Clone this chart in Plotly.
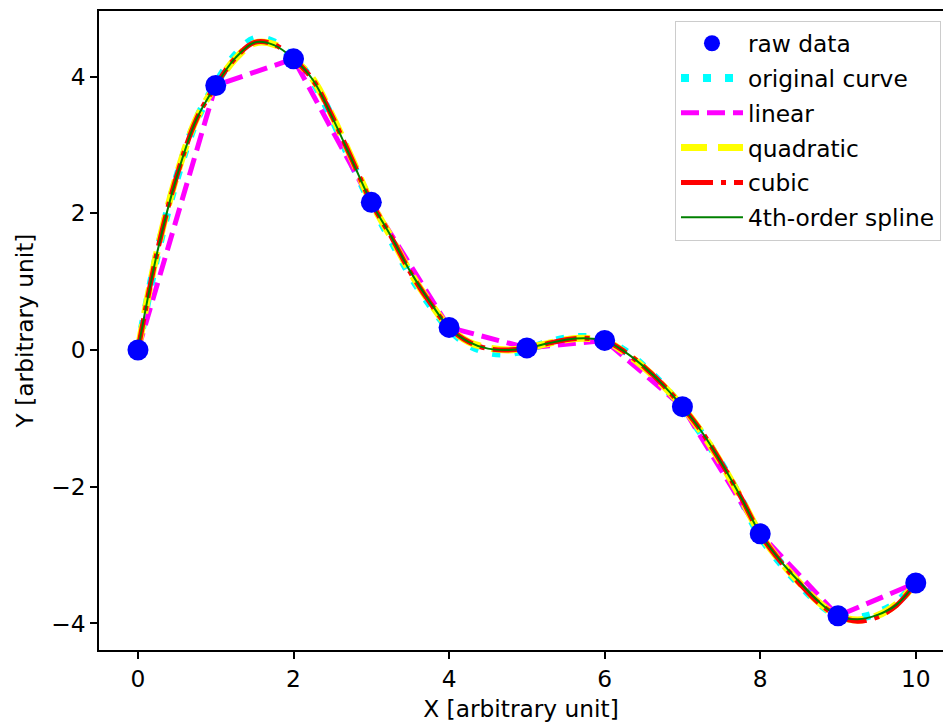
import plotly.graph_objects as go

# ---- data ----
x_raw = [0, 1, 2, 3, 4, 5, 6, 7, 8, 9, 10]
y_raw = [0.00, 3.87, 4.26, 2.16, 0.33, 0.03, 0.14, -0.83, -2.69, -3.89, -3.41]

x_fine = [0, 0.25, 0.5, 0.75, 1.0, 1.25, 1.5, 1.75, 2.0, 2.25, 2.5, 2.75, 3.0,
          3.25, 3.5, 3.75, 4.0, 4.25, 4.5, 4.75, 5.0, 5.25, 5.5, 5.75, 6.0,
          6.25, 6.5, 6.75, 7.0, 7.25, 7.5, 7.75, 8.0, 8.25, 8.5, 8.75, 9.0,
          9.25, 9.5, 9.75, 10.0]

y_original = [0.00, 1.42, 2.52, 3.36, 3.89, 4.31, 4.55, 4.50, 4.26, 3.93, 3.38,
              2.74, 2.14, 1.62, 1.10, 0.67, 0.31, 0.08, -0.03, -0.05, 0.01,
              0.10, 0.17, 0.19, 0.15, -0.01, -0.24, -0.52, -0.85, -1.23,
              -1.67, -2.18, -2.72, -3.10, -3.42, -3.70, -3.89, -3.92, -3.85,
              -3.70, -3.40]

y_quadratic = [0.00, 1.46, 2.56, 3.38, 3.87, 4.26, 4.49, 4.47, 4.26, 3.96,
               3.42, 2.80, 2.16, 1.66, 1.14, 0.70, 0.33, 0.12, 0.03, 0.00,
               0.03, 0.09, 0.15, 0.17, 0.14, -0.03, -0.25, -0.52, -0.83,
               -1.21, -1.66, -2.16, -2.69, -3.08, -3.40, -3.69, -3.89, -3.95,
               -3.89, -3.72, -3.41]

y_cubic = [0.00, 1.45, 2.55, 3.37, 3.87, 4.27, 4.50, 4.47, 4.26, 3.95, 3.41,
           2.79, 2.16, 1.67, 1.14, 0.70, 0.33, 0.12, 0.02, 0.00, 0.03, 0.09,
           0.15, 0.17, 0.14, -0.02, -0.24, -0.51, -0.83, -1.20, -1.65, -2.15,
           -2.69, -3.08, -3.41, -3.70, -3.89, -3.97, -3.91, -3.74, -3.41]

y_spline = [0.00, 1.44, 2.54, 3.37, 3.87, 4.27, 4.50, 4.46, 4.26, 3.95, 3.40,
            2.78, 2.16, 1.67, 1.15, 0.71, 0.33, 0.12, 0.02, 0.00, 0.03, 0.09,
            0.15, 0.17, 0.14, -0.02, -0.24, -0.51, -0.83, -1.20, -1.65, -2.15,
            -2.69, -3.07, -3.39, -3.68, -3.89, -3.94, -3.88, -3.73, -3.41]

x_ticks = [0, 2, 4, 6, 8, 10]
y_ticks = [-4, -2, 0, 2, 4]

FONT = "DejaVu Sans"
FS = 23.3

fig = go.Figure()

fig.add_trace(go.Scatter(
    x=x_fine, y=y_original, mode="lines", name="original curve",
    line=dict(color="cyan", width=8, dash="8px,14px", shape="spline"),
    legendrank=2, legendgroup="g2"))
fig.add_trace(go.Scatter(
    x=x_raw, y=y_raw, mode="lines", name="linear",
    line=dict(color="magenta", width=5, dash="18px,8px"),
    legendrank=3, legendgroup="g3"))
fig.add_trace(go.Scatter(
    x=x_fine, y=y_quadratic, mode="lines", name="quadratic",
    line=dict(color="yellow", width=7, dash="26px,11px", shape="spline"),
    legendrank=4, legendgroup="g4"))
fig.add_trace(go.Scatter(
    x=x_fine, y=y_cubic, mode="lines", name="cubic",
    line=dict(color="red", width=5, dash="32px,8px,5px,8px", shape="spline"),
    legendrank=5, legendgroup="g5"))
fig.add_trace(go.Scatter(
    x=x_fine, y=y_spline, mode="lines", name="4th-order spline",
    line=dict(color="green", width=2, shape="spline"),
    legendrank=6, legendgroup="g6"))
fig.add_trace(go.Scatter(
    x=x_raw, y=y_raw, mode="markers", name="raw data",
    marker=dict(color="blue", size=21, line=dict(width=0)),
    legendrank=1, legendgroup="g1"))

fig.update_layout(
    width=943, height=723,
    margin=dict(l=99, r=0, t=11, b=73, pad=0),
    paper_bgcolor="white", plot_bgcolor="white",
    font=dict(family=FONT, size=FS, color="black"),
    showlegend=True,
    legend=dict(
        x=0.9976, y=0.985, xanchor="right", yanchor="top",
        bgcolor="rgba(255,255,255,0.8)", bordercolor="#cccccc", borderwidth=1,
        font=dict(family=FONT, size=FS, color="black"),
        tracegroupgap=1.5, itemwidth=62,
    ),
)

fig.update_xaxes(
    range=[-0.501, 10.35], tickvals=x_ticks, ticktext=[str(v) for v in x_ticks],
    showgrid=False, zeroline=False,
    showline=True, linecolor="black", linewidth=1.6, mirror=True,
    ticks="outside", ticklen=7, tickwidth=1.6, tickcolor="black",
    title=dict(text="X [arbitrary unit]", standoff=10,
               font=dict(family=FONT, size=FS)),
)
fig.update_yaxes(
    range=[-4.39, 4.96], tickvals=y_ticks,
    ticktext=["\u22124", "\u22122", "0", "2", "4"],
    showgrid=False, zeroline=False,
    showline=True, linecolor="black", linewidth=1.6, mirror=False,
    ticks="outside", ticklen=7, tickwidth=1.6, tickcolor="black",
    title=dict(text="Y [arbitrary unit]", standoff=11,
               font=dict(family=FONT, size=FS)),
)

fig.write_html("out.html")
